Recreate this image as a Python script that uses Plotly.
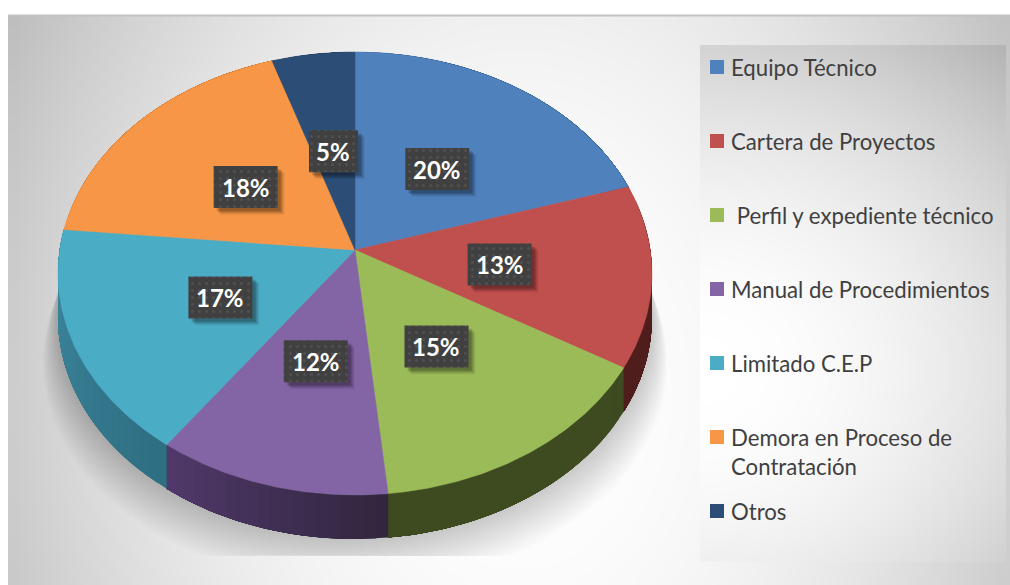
import numpy as np
import plotly.graph_objects as go

categories = ["Equipo Técnico", "Cartera de Proyectos", "\u00a0Perfil y expediente técnico",
              "Manual de Procedimientos", "Limitado C.E.P",
              "Demora en Proceso de<br>Contratación", "Otros"]
values = [20.2, 13.3, 14.9, 11.5, 16.6, 18.5, 5.0]
labels = ["20%", "13%", "15%", "12%", "17%", "18%", "5%"]
colors = ["#4f81bd", "#c0504d", "#9bbb59", "#8364a4", "#4bacc6", "#f79646", "#2c4d75"]
wall_start = ["#2c4d75", "#4f1e1c", "#3e4a20", "#32263f", "#2f6f82", "#c0651f", "#1a2e46"]
wall_end = ["#2c4d75", "#4f1e1c", "#3e4a20", "#50396a", "#3f8aa2", "#c0651f", "#1a2e46"]

W, H = 1010, 585
CX, CY, SX, SY, PERSP, DEPTH = 355, 250, 295.3, 219, 0.106, 44


def project(angle, r=1.0):
    a = np.radians(angle)
    u, v = r * np.sin(a), r * np.cos(a)
    k = 1 + PERSP * v
    return CX + SX * u / k, CY - SY * v / k


def rgb(c):
    return np.array([int(c[i:i + 2], 16) for i in (1, 3, 5)], float)


def mix(a, b, t):
    return "rgb(%d,%d,%d)" % tuple(rgb(a) * (1 - t) + rgb(b) * t)


fig = go.Figure()
GS = [[0, "#000000"], [1, "#ffffff"]]


def gradient(x0, x1, y0, y1, cx, cy, a, b, drop):
    nx, ny = 90, 60
    dx, dy = (x1 - x0) / nx, (y1 - y0) / ny
    xs = x0 + dx * (np.arange(nx) + 0.5)
    ys = y0 + dy * (np.arange(ny) + 0.5)
    X, Y = np.meshgrid(xs, ys)
    z = 255 - drop * (((X - cx) / a) ** 2 + ((Y - cy) / b) ** 2)
    fig.add_trace(go.Heatmap(x=xs, y=ys, z=z, colorscale=GS, zmin=0, zmax=255, zsmooth="best",
                             showscale=False, hoverinfo="skip"))


# background
gradient(8, W, 16, H, 520, 390, 510, 686, 51)
fig.add_shape(type="line", x0=8, x1=W, y0=15.5, y1=15.5, line=dict(color="#c2c2c2", width=2), layer="above")

# soft shadow under the pie
edge = np.linspace(0, 360, 241)
ex, ey = project(edge)
LAYERS = 18
for i in range(LAYERS):
    t = 1 - i / (LAYERS - 1)
    s = 1 + 0.052 * t
    dy = DEPTH + 46 * t
    fig.add_trace(go.Scatter(x=np.clip(CX + (ex - CX) * s, 40, 669),
                             y=np.minimum(ey + dy, 556),
                             mode="lines", fill="toself", line=dict(width=0),
                             fillcolor="rgba(0,0,0,0.0115)", hoverinfo="skip", showlegend=False))

# legend panel
gradient(700, 1006, 45, 562, 700, 370, 300, 265, 30)

# slices
cum = np.concatenate([[0], np.cumsum(values)]) / sum(values) * 360
for i in range(len(values)):
    a0, a1 = cum[i], cum[i + 1]
    n = max(2, int((a1 - a0) / 2))
    edges = np.linspace(a0, a1, n + 1)
    for j in range(n):
        # each strip reaches to the end of the slice so that the next one paints over it
        seg = np.linspace(edges[j], a1, 40)
        x, y = project(seg)
        col = mix(wall_start[i], wall_end[i], j / max(1, n - 1))
        fig.add_trace(go.Scatter(x=np.r_[x, x[::-1]], y=np.r_[y, y[::-1] + DEPTH], mode="lines",
                                 fill="toself", fillcolor=col, line=dict(width=0),
                                 hoverinfo="skip", showlegend=False))
for i in range(len(values)):
    arc = np.linspace(cum[i], cum[i + 1], 100)
    x, y = project(arc)
    fig.add_trace(go.Scatter(x=np.r_[CX, x, CX], y=np.r_[CY, y, CY], mode="lines", fill="toself",
                             fillcolor=colors[i], line=dict(color=colors[i], width=0.5),
                             name=categories[i], hoverinfo="name", showlegend=False))

# data labels
mid = (cum[:-1] + cum[1:]) / 2
lx, ly = project(mid, 0.49)
ly = ly + 2
widths = [49 if len(t) < 3 else 64 for t in labels]
for off, alpha in ((7, 0.05), (6, 0.07), (5, 0.09), (4, 0.11), (3, 0.13)):
    fig.add_trace(go.Bar(x=lx + off, y=[42] * 7, base=ly - 21 + off, width=widths, xaxis="x2", yaxis="y2",
                         marker=dict(color="rgba(0,0,0,%g)" % alpha, line_width=0),
                         hoverinfo="skip", showlegend=False))
fig.add_trace(go.Bar(x=lx, y=[42] * 7, base=ly - 21, width=widths, xaxis="x2", yaxis="y2",
                     marker=dict(color="#404040", line_width=0,
                                 pattern=dict(shape=".", size=7, solidity=0.15, fgcolor="#505050",
                                              bgcolor="#404040", fillmode="replace")),
                     hoverinfo="skip", showlegend=False))
for t, x, y in zip(labels, lx, ly):
    fig.add_annotation(x=x, y=y, text="<b>%s</b>" % t, showarrow=False, xref="x", yref="y",
                       font=dict(family="Lato", size=24, color="white"))

# legend
leg_y = [67, 141, 215, 289, 363, 437, 511]
fig.add_trace(go.Scatter(x=[717] * 7, y=leg_y, mode="markers", xaxis="x2", yaxis="y2",
                         marker=dict(symbol="square", size=14, color=colors, line_width=0),
                         hoverinfo="skip", showlegend=False))
for c, y in zip(categories, leg_y):
    two = "<br>" in c
    fig.add_annotation(x=729, y=y + (15 if two else 0), text=c, showarrow=False, xanchor="left", align="left",
                       xref="x", yref="y", font=dict(family="Lato", size=22.2, color="#404040"))

axis = dict(visible=False, fixedrange=True)
fig.update_layout(
    width=W, height=H, margin=dict(l=0, r=0, t=0, b=0), autosize=False,
    paper_bgcolor="white", plot_bgcolor="white", barmode="overlay", showlegend=False,
    xaxis=dict(range=[0, W], **axis), yaxis=dict(range=[H, 0], **axis),
    xaxis2=dict(range=[0, W], overlaying="x", **axis),
    yaxis2=dict(range=[H, 0], overlaying="y", **axis),
)
fig.write_html("out.html", config=dict(displayModeBar=False), post_script="document.body.style.margin='0';")
